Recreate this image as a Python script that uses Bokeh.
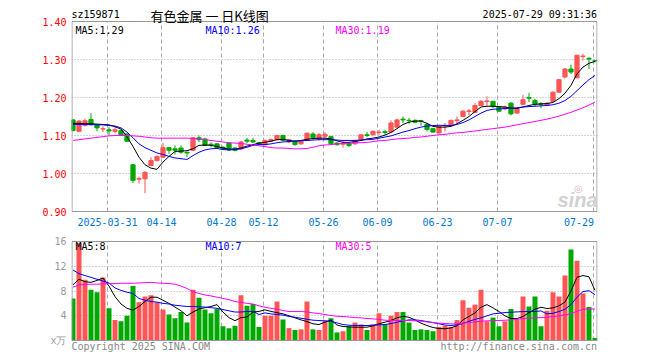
from bokeh.plotting import figure
from bokeh.models import FixedTicker, Label, Range1d, ColumnDataSource, NumeralTickFormatter
from bokeh.layouts import column
from bokeh.embed import file_html
from bokeh.resources import INLINE

# ---------------- data ----------------
dates = [
    "2025-03-21", "2025-03-24", "2025-03-25", "2025-03-26", "2025-03-27", "2025-03-28", "2025-03-31",
    "2025-04-01", "2025-04-02", "2025-04-03", "2025-04-07", "2025-04-08", "2025-04-09", "2025-04-10",
    "2025-04-11", "2025-04-14", "2025-04-15", "2025-04-16", "2025-04-17", "2025-04-18", "2025-04-21",
    "2025-04-22", "2025-04-23", "2025-04-24", "2025-04-25", "2025-04-28", "2025-04-29", "2025-04-30",
    "2025-05-06", "2025-05-07", "2025-05-08", "2025-05-09", "2025-05-12", "2025-05-13", "2025-05-14",
    "2025-05-15", "2025-05-16", "2025-05-19", "2025-05-20", "2025-05-21", "2025-05-22", "2025-05-23",
    "2025-05-26", "2025-05-27", "2025-05-28", "2025-05-29", "2025-05-30", "2025-06-03", "2025-06-04",
    "2025-06-05", "2025-06-06", "2025-06-09", "2025-06-10", "2025-06-11", "2025-06-12", "2025-06-13",
    "2025-06-16", "2025-06-17", "2025-06-18", "2025-06-19", "2025-06-20", "2025-06-23", "2025-06-24",
    "2025-06-25", "2025-06-26", "2025-06-27", "2025-06-30", "2025-07-01", "2025-07-02", "2025-07-03",
    "2025-07-04", "2025-07-07", "2025-07-08", "2025-07-09", "2025-07-10", "2025-07-11", "2025-07-14",
    "2025-07-15", "2025-07-16", "2025-07-17", "2025-07-18", "2025-07-21", "2025-07-22", "2025-07-23",
    "2025-07-24", "2025-07-25", "2025-07-28", "2025-07-29",
]

open_ = [
    1.141, 1.111, 1.126, 1.142, 1.128, 1.117, 1.115, 1.111, 1.113, 1.104, 1.023, 0.985, 0.986, 1.021,
    1.034, 1.043, 1.068, 1.065, 1.067, 1.056, 1.061, 1.094, 1.091, 1.077, 1.078, 1.069, 1.080, 1.067,
    1.065, 1.088, 1.087, 1.081, 1.076, 1.085, 1.089, 1.100, 1.083, 1.085, 1.078, 1.087, 1.104, 1.091,
    1.098, 1.097, 1.080, 1.077, 1.080, 1.078, 1.089, 1.102, 1.102, 1.108, 1.110, 1.109, 1.122, 1.143,
    1.140, 1.140, 1.139, 1.129, 1.118, 1.107, 1.125, 1.126, 1.139, 1.150, 1.163, 1.161, 1.179, 1.189,
    1.190, 1.176, 1.170, 1.185, 1.159, 1.182, 1.200, 1.192, 1.184, 1.179, 1.190, 1.214, 1.254, 1.275,
    1.252, 1.308, 1.303, 1.297,
]
high = [
    1.144, 1.141, 1.144, 1.159, 1.129, 1.124, 1.122, 1.122, 1.115, 1.106, 1.025, 0.992, 1.006, 1.043,
    1.048, 1.081, 1.069, 1.074, 1.074, 1.057, 1.096, 1.100, 1.094, 1.082, 1.080, 1.072, 1.083, 1.069,
    1.086, 1.094, 1.094, 1.083, 1.089, 1.092, 1.102, 1.102, 1.091, 1.087, 1.087, 1.108, 1.109, 1.107,
    1.109, 1.099, 1.083, 1.087, 1.082, 1.089, 1.104, 1.109, 1.113, 1.115, 1.115, 1.140, 1.144, 1.150,
    1.146, 1.142, 1.141, 1.133, 1.120, 1.126, 1.133, 1.141, 1.150, 1.167, 1.170, 1.185, 1.193, 1.203,
    1.191, 1.178, 1.179, 1.188, 1.172, 1.207, 1.212, 1.197, 1.188, 1.188, 1.216, 1.249, 1.278, 1.287,
    1.313, 1.315, 1.306, 1.299,
]
low = [
    1.111, 1.109, 1.124, 1.127, 1.111, 1.109, 1.100, 1.106, 1.099, 1.083, 0.975, 0.973, 0.948, 1.019,
    1.032, 1.041, 1.052, 1.050, 1.052, 1.043, 1.059, 1.083, 1.072, 1.069, 1.065, 1.062, 1.060, 1.058,
    1.062, 1.080, 1.080, 1.074, 1.074, 1.083, 1.087, 1.085, 1.080, 1.073, 1.076, 1.085, 1.089, 1.087,
    1.091, 1.076, 1.073, 1.068, 1.069, 1.076, 1.087, 1.096, 1.100, 1.100, 1.102, 1.107, 1.120, 1.133,
    1.131, 1.132, 1.126, 1.111, 1.107, 1.104, 1.111, 1.124, 1.131, 1.148, 1.153, 1.160, 1.177, 1.176,
    1.172, 1.162, 1.166, 1.153, 1.157, 1.180, 1.188, 1.176, 1.172, 1.177, 1.188, 1.212, 1.250, 1.262,
    1.250, 1.297, 1.275, 1.292,
]
close = [
    1.113, 1.138, 1.139, 1.128, 1.120, 1.118, 1.112, 1.115, 1.100, 1.085, 0.982, 0.987, 1.003, 1.034,
    1.045, 1.068, 1.061, 1.061, 1.056, 1.054, 1.094, 1.089, 1.074, 1.075, 1.068, 1.064, 1.062, 1.061,
    1.083, 1.085, 1.083, 1.077, 1.087, 1.089, 1.100, 1.087, 1.089, 1.076, 1.085, 1.106, 1.094, 1.102,
    1.103, 1.078, 1.076, 1.079, 1.074, 1.087, 1.102, 1.100, 1.111, 1.109, 1.108, 1.133, 1.141, 1.141,
    1.139, 1.135, 1.137, 1.116, 1.109, 1.124, 1.127, 1.140, 1.141, 1.164, 1.165, 1.179, 1.190, 1.191,
    1.176, 1.164, 1.175, 1.157, 1.170, 1.194, 1.198, 1.183, 1.182, 1.185, 1.214, 1.247, 1.275, 1.267,
    1.311, 1.309, 1.301, 1.296,
]
volume = [
    6.8, 15.7, 9.8, 8.2, 7.8, 10.2, 5.2, 3.3, 3.1, 4.0, 8.8, 6.2, 7.1, 7.3,
    6.2, 5.0, 4.2, 3.6, 4.6, 2.9, 8.2, 6.9, 5.0, 4.4, 5.1, 2.3, 2.0, 2.4,
    7.3, 5.6, 5.9, 2.2, 4.0, 4.0, 6.3, 3.4, 2.0, 1.7, 1.8, 6.3, 1.8, 1.7,
    3.2, 3.6, 1.3, 1.5, 2.3, 2.9, 2.6, 1.7, 2.6, 4.4, 2.6, 4.0, 4.6, 4.6,
    2.9, 1.7, 1.8, 1.7, 1.5, 2.2, 2.4, 2.2, 3.3, 6.5, 5.3, 5.8, 8.2, 3.1,
    3.7, 2.3, 3.1, 5.1, 3.3, 7.1, 5.5, 7.1, 2.3, 4.8, 7.8, 7.1, 10.5, 14.7,
    12.9, 7.6, 5.4, 0.4,
]
ma5 = [
    1.132, 1.132, 1.131, 1.131, 1.130, 1.129, 1.128, 1.123, 1.117, 1.097, 1.071, 1.043, 1.023, 1.014,
    1.011, 1.030, 1.045, 1.058, 1.059, 1.060, 1.065, 1.074, 1.075, 1.074, 1.071, 1.067, 1.064, 1.064,
    1.067, 1.072, 1.076, 1.080, 1.082, 1.085, 1.089, 1.090, 1.087, 1.085, 1.087, 1.090, 1.092, 1.093,
    1.093, 1.091, 1.086, 1.082, 1.082, 1.084, 1.087, 1.091, 1.093, 1.096, 1.101, 1.108, 1.118, 1.129,
    1.135, 1.138, 1.138, 1.132, 1.124, 1.122, 1.122, 1.124, 1.131, 1.140, 1.150, 1.163, 1.175, 1.177,
    1.177, 1.176, 1.175, 1.172, 1.171, 1.175, 1.179, 1.182, 1.183, 1.184, 1.187, 1.197, 1.211, 1.232,
    1.262, 1.280, 1.290, 1.295,
]
ma10 = [
    1.129, 1.129, 1.129, 1.129, 1.128, 1.128, 1.126, 1.125, 1.120, 1.109, 1.094, 1.078, 1.068, 1.061,
    1.054, 1.050, 1.045, 1.041, 1.039, 1.037, 1.047, 1.056, 1.062, 1.065, 1.066, 1.063, 1.062, 1.063,
    1.065, 1.069, 1.074, 1.076, 1.076, 1.078, 1.081, 1.083, 1.084, 1.085, 1.086, 1.087, 1.088, 1.089,
    1.089, 1.089, 1.088, 1.087, 1.087, 1.087, 1.088, 1.089, 1.090, 1.093, 1.096, 1.099, 1.104, 1.109,
    1.113, 1.118, 1.122, 1.125, 1.126, 1.127, 1.126, 1.126, 1.129, 1.134, 1.141, 1.150, 1.159, 1.166,
    1.169, 1.170, 1.171, 1.172, 1.173, 1.175, 1.176, 1.177, 1.178, 1.179, 1.181, 1.185, 1.192, 1.203,
    1.218, 1.233, 1.247, 1.258,
]
ma30 = [
    1.087, 1.089, 1.091, 1.093, 1.095, 1.097, 1.099, 1.100, 1.100, 1.100, 1.099, 1.098, 1.096, 1.094,
    1.093, 1.093, 1.093, 1.093, 1.093, 1.093, 1.092, 1.091, 1.089, 1.087, 1.085, 1.083, 1.081, 1.080,
    1.079, 1.077, 1.075, 1.073, 1.071, 1.068, 1.067, 1.067, 1.066, 1.065, 1.065, 1.066, 1.069, 1.073,
    1.075, 1.076, 1.078, 1.079, 1.080, 1.081, 1.081, 1.082, 1.084, 1.086, 1.087, 1.089, 1.091, 1.092,
    1.093, 1.095, 1.096, 1.098, 1.100, 1.102, 1.103, 1.105, 1.107, 1.108, 1.110, 1.112, 1.114, 1.116,
    1.118, 1.120, 1.122, 1.125, 1.128, 1.131, 1.134, 1.137, 1.140, 1.143, 1.147, 1.151, 1.156, 1.161,
    1.167, 1.173, 1.180, 1.188,
]
vma5 = [
    9.0, 9.9, 9.5, 9.4, 9.7, 10.1, 8.8, 7.1, 5.9, 5.2, 4.9, 5.5, 6.3, 7.0,
    7.0, 6.5, 6.0, 5.4, 4.8, 4.0, 4.6, 5.1, 5.3, 5.5, 5.8, 4.6, 3.7, 3.2,
    3.7, 3.8, 4.6, 4.7, 4.95, 4.7, 4.5, 4.3, 4.0, 3.66, 3.33, 3.06, 2.7, 2.58,
    2.96, 3.3, 2.5, 2.26, 2.2, 2.15, 2.15, 2.15, 2.37, 2.7, 2.96, 3.23, 3.66, 3.9,
    3.76, 3.33, 2.8, 2.42, 2.1, 1.93, 1.9, 2.04, 2.4, 3.33, 3.9, 4.46, 5.38, 5.8,
    5.27, 4.68, 3.98, 3.55, 3.55, 3.87, 4.5, 5.05, 5.38, 5.16, 5.27, 5.6, 6.2, 8.0,
    10.2, 10.5, 10.3, 8.1,
]
vma10 = [
    11.4, 10.8, 10.5, 10.2, 9.9, 9.6, 9.3, 8.5, 8.1, 7.8, 7.6, 6.8, 6.5, 6.3,
    6.2, 6.0, 5.9, 5.7, 5.6, 5.5, 5.5, 5.45, 5.4, 5.3, 5.2, 5.0, 4.8, 4.6,
    4.6, 4.7, 4.7, 4.2, 4.46, 4.3, 4.2, 4.1, 3.9, 3.76, 3.6, 3.44, 3.28, 3.23,
    3.17, 3.12, 2.85, 2.58, 2.47, 2.42, 2.42, 2.42, 2.47, 2.53, 2.58, 2.74, 2.96, 3.17,
    3.33, 3.33, 3.23, 3.06, 2.9, 2.7, 2.5, 2.42, 2.53, 2.74, 3.12, 3.4, 3.66, 3.98,
    4.3, 4.4, 4.52, 4.57, 4.62, 4.68, 4.68, 4.68, 4.78, 4.3, 4.4, 4.68, 5.05, 5.8,
    7.0, 7.9, 8.06, 7.4,
]
vma30 = [
    8.6, 9.0, 9.05, 9.1, 9.1, 9.15, 9.2, 9.2, 9.25, 9.25, 9.25, 9.3, 9.35, 9.4,
    9.3, 9.25, 9.2, 9.1, 8.8, 8.4, 7.9, 7.6, 7.35, 7.2, 7.0, 6.8, 6.6, 6.3,
    6.15, 6.0, 5.9, 5.6, 5.38, 5.2, 5.05, 4.84, 4.68, 4.68, 4.68, 4.62, 4.46, 4.35,
    4.2, 4.03, 3.92, 3.87, 3.8, 3.7, 3.66, 3.55, 3.5, 3.4, 3.28, 3.23, 3.23, 3.23,
    3.23, 3.17, 3.12, 3.0, 2.9, 2.8, 2.74, 2.69, 2.69, 2.8, 2.9, 3.0, 3.12, 3.17,
    3.23, 3.23, 3.28, 3.33, 3.4, 3.55, 3.6, 3.66, 3.7, 3.76, 3.87, 3.98, 4.14, 4.3,
    4.73, 5.05, 5.1, 5.1,
]

tick_dates = ["2025-03-31", "2025-04-14", "2025-04-28", "2025-05-12", "2025-05-26",
              "2025-06-09", "2025-06-23", "2025-07-07", "2025-07-29"]
tick_labels = ["2025-03-31", "04-14", "04-28", "05-12", "05-26", "06-09", "06-23", "07-07", "07-29"]
price_ticks = [0.9, 1.0, 1.1, 1.2, 1.3, 1.4]
vol_ticks = [0, 4, 8, 12, 16]
vol_unit = "x万"

header_code = "sz159871"
header_title = "有色金属 一 日K线图"
header_time = "2025-07-29 09:31:36"
ma_price_text = ["MA5:1.29", "MA10:1.26", "MA30:1.19"]
ma_vol_text = ["MA5:8", "MA10:7", "MA30:5"]

# ---------------- styling / geometry (page pixels) ----------------
RED = "#ff5555"
GREEN = "#00a800"
MONO = "DejaVu Sans Mono"
GRID = "#a8a8a8"
BORDER = "#999999"
XLAB = "#0078d4"

FIG_W = 652
LEFT, RIGHT = 71, 55
X_MIN, X_MAX = 0, 87.67
PX_PER_X = (FIG_W - LEFT - RIGHT) / (X_MAX - X_MIN)
FRAME_LEFT_PAGE = LEFT

# price panel: canvas page-y 0..232, price box 21..211
P_CAN_TOP, P_CAN_BOT = 0, 232
P_BOX_TOP, P_BOX_BOT = 21, 211
P_LO, P_HI = min(price_ticks), max(price_ticks)
PPU = (P_BOX_BOT - P_BOX_TOP) / (P_HI - P_LO)
# volume panel: canvas page-y 232..356, volume box 241..340
V_CAN_TOP, V_CAN_BOT = 232, 356
V_BOX_TOP, V_BOX_BOT = 241, 340
V_LO, V_HI = min(vol_ticks), max(vol_ticks)
VPU = (V_BOX_BOT - V_BOX_TOP) / (V_HI - V_LO)


def px2x(px):
    return X_MIN + (px - FRAME_LEFT_PAGE) / PX_PER_X


def py2p(py):
    return P_HI - (py - P_BOX_TOP) / PPU


def py2v(py):
    return V_LO + (V_BOX_BOT - py) / VPU


n = len(dates)
xs = [k + 0.25 for k in range(n)]          # bar centre sits a little right of its tick
colors = [RED if c >= o else GREEN for o, c in zip(open_, close)]
body_top = [max(o, c) for o, c in zip(open_, close)]
body_bot = [min(o, c) for o, c in zip(open_, close)]
src = ColumnDataSource(dict(x=xs, o=open_, h=high, l=low, c=close, bt=body_top, bb=body_bot,
                            v=volume, col=colors, ma5=ma5, ma10=ma10, ma30=ma30,
                            vma5=vma5, vma10=vma10, vma30=vma30))
tick_pos = [dates.index(d) for d in tick_dates]

xr = Range1d(X_MIN, X_MAX)


def style_yaxis(fig, color):
    ax = fig.yaxis
    ax.axis_line_color = None
    ax.major_tick_line_color = None
    ax.minor_tick_line_color = None
    ax.major_tick_out = 0
    ax.major_tick_in = 0
    ax.major_label_standoff = 5
    ax.major_label_text_color = color
    ax.major_label_text_font = MONO
    ax.major_label_text_font_size = "10px"


def add_label(fig, conv, px, py, text, color="black", size="10px", font=MONO, align="left",
              style="normal"):
    fig.add_layout(Label(x=px2x(px), y=conv(py), text=text, text_color=color,
                         text_font_size=size, text_font=font, text_align=align,
                         text_baseline="middle", text_font_style=style))


def draw_box(fig, bottom, top):
    half = 0.5 / PX_PER_X
    fig.quad(left=[X_MIN + half], right=[X_MAX - half], bottom=[bottom], top=[top],
             fill_color=None, line_color=BORDER, line_width=1)


# ---------------- price panel ----------------
p1 = figure(width=FIG_W, height=P_CAN_BOT - P_CAN_TOP, x_range=xr,
            y_range=Range1d(py2p(P_CAN_BOT), py2p(P_CAN_TOP)),
            output_backend="svg", toolbar_location=None,
            min_border_left=LEFT, min_border_right=RIGHT, min_border_top=0, min_border_bottom=0)
p1.outline_line_color = None
p1.xaxis.visible = False
p1.yaxis.ticker = FixedTicker(ticks=price_ticks)
p1.yaxis.formatter = NumeralTickFormatter(format="0.00")
style_yaxis(p1, "#ff0000")
p1.xgrid.visible = False
p1.ygrid.ticker = FixedTicker(ticks=price_ticks[1:-1])
p1.ygrid.grid_line_color = GRID
p1.ygrid.grid_line_dash = "1 2"

k = len(tick_pos)
p1.segment(x0=tick_pos, y0=[P_LO] * k, x1=tick_pos, y1=[P_HI] * k,
           line_color=GRID, line_dash="4 3", line_width=1)
p1.segment(x0="x", y0="l", x1="x", y1="h", line_color="col", line_width=1, source=src)
p1.vbar(x="x", width=0.7, top="bt", bottom="bb", fill_color="col", line_color="col",
        line_width=1, source=src)
p1.line("x", "ma5", line_color="black", line_width=1, source=src)
p1.line("x", "ma10", line_color="#0000ff", line_width=1, source=src)
p1.line("x", "ma30", line_color="#ff00ff", line_width=1, source=src)
draw_box(p1, P_LO, P_HI)

add_label(p1, py2p, 75, 29.5, ma_price_text[0], "black")
add_label(p1, py2p, 205, 29.5, ma_price_text[1], "#0000ff")
add_label(p1, py2p, 335, 29.5, ma_price_text[2], "#ff00ff")
add_label(p1, py2p, 71, 13.5, header_code, "black")
add_label(p1, py2p, 150, 14.5, header_title, "black", size="13px", font="Noto Sans CJK SC")
add_label(p1, py2p, 596.5, 13.5, header_time, "black", align="right")
for t, lab in zip(tick_pos, tick_labels):
    if lab == tick_labels[-1]:
        add_label(p1, py2p, FRAME_LEFT_PAGE + t * PX_PER_X + 0.5, 221.5, lab, XLAB, align="right")
    else:
        add_label(p1, py2p, FRAME_LEFT_PAGE + t * PX_PER_X, 221.5, lab, XLAB, align="center")
add_label(p1, py2p, 578, 188, "◎", "#f0b4b4", size="10px", font="DejaVu Sans", align="center")
add_label(p1, py2p, 597, 199, "sina", "#d2d2d2", size="20px", font="Liberation Sans",
          align="right", style="bold italic")

# ---------------- volume panel ----------------
p2 = figure(width=FIG_W, height=V_CAN_BOT - V_CAN_TOP, x_range=xr,
            y_range=Range1d(py2v(V_CAN_BOT), py2v(V_CAN_TOP)),
            output_backend="svg", toolbar_location=None,
            min_border_left=LEFT, min_border_right=RIGHT, min_border_top=0, min_border_bottom=0)
p2.outline_line_color = None
p2.xaxis.visible = False
p2.yaxis.ticker = FixedTicker(ticks=vol_ticks)
p2.yaxis.major_label_overrides = {0: vol_unit}
style_yaxis(p2, "#999999")
p2.xgrid.visible = False
p2.ygrid.ticker = FixedTicker(ticks=vol_ticks[1:-1])
p2.ygrid.grid_line_color = GRID
p2.ygrid.grid_line_dash = "1 2"

p2.segment(x0=tick_pos, y0=[V_LO] * k, x1=tick_pos, y1=[V_HI] * k,
           line_color=GRID, line_dash="4 3", line_width=1)
p2.vbar(x="x", width=0.83, top="v", bottom=0, fill_color="col", line_color=None, source=src)
p2.line("x", "vma5", line_color="black", line_width=1, source=src)
p2.line("x", "vma10", line_color="#0000ff", line_width=1, source=src)
p2.line("x", "vma30", line_color="#ff00ff", line_width=1, source=src)
draw_box(p2, V_LO, V_HI)

add_label(p2, py2v, 75, 246, ma_vol_text[0], "black")
add_label(p2, py2v, 205, 246, ma_vol_text[1], "#0000ff")
add_label(p2, py2v, 335, 246, ma_vol_text[2], "#ff00ff")
add_label(p2, py2v, 71, 346, "Copyright 2025 SINA.COM", "#888888")
add_label(p2, py2v, 596.5, 346, "http://finance.sina.com.cn", "#888888", align="right")

for f in (p1, p2):
    f.background_fill_color = "white"
    f.border_fill_color = "white"

layout = column(p1, p2, spacing=0)
open("out.html", "w").write(file_html(layout, INLINE))
